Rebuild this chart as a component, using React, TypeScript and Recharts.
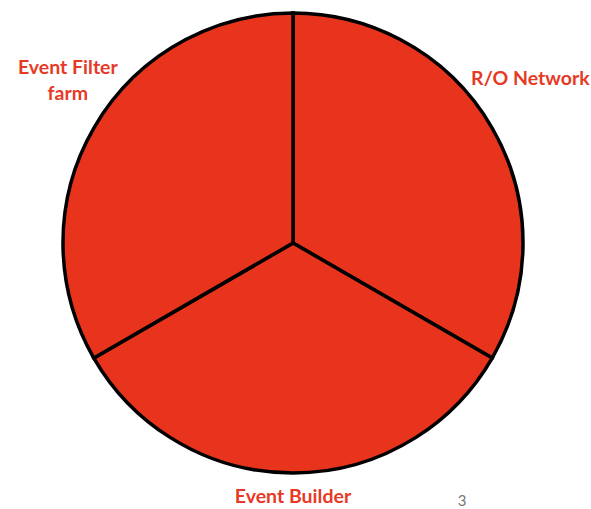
import { PieChart, Pie, Cell } from 'recharts';

const categories = ['R/O Network', 'Event Builder', 'Event Filter farm'];
const shares = [1, 1, 1];

const data = categories.map((name, i) => ({ name, value: shares[i] }));

const RED = '#E8341C';
const LABEL_RED = '#E63A26';

// label placement relative to pie centre: angle (deg) and distance as a ratio of the radius
const labelSpots = [
    { angle: 35, dist: 1.26 },
    { angle: 270, dist: 1.095 },
    { angle: 144, dist: 1.21 },
];

// eslint-disable-next-line @typescript-eslint/no-explicit-any
const renderLabel = (props: any) => {
    const { cx, cy, outerRadius, index } = props;
    const spot = labelSpots[index];
    const rad = (spot.angle * Math.PI) / 180;
    const x = cx + Math.cos(rad) * outerRadius * spot.dist;
    const y = cy - Math.sin(rad) * outerRadius * spot.dist;
    const words = categories[index] === 'Event Filter farm' ? ['Event Filter', 'farm'] : [categories[index]];
    const lineH = 26;
    const y0 = y - ((words.length - 1) * lineH) / 2;
    return (
        <text
            key={index}
            x={x}
            y={y0}
            fill={LABEL_RED}
            textAnchor="middle"
            dominantBaseline="central"
            fontFamily="Lato, 'Open Sans', sans-serif"
            fontWeight="bold"
            fontSize={19.5}
        >
            {words.map((w, i) => (
                <tspan key={i} x={x} dy={i === 0 ? 0 : lineH}>{w}</tspan>
            ))}
        </text>
    );
};

export default function App() {
    return (
        <div style={{ position: 'absolute', left: 0, top: 0, width: 591, height: 509, background: '#fff' }}>
            <PieChart width={591} height={509} margin={{ top: 0, right: 0, bottom: 0, left: 0 }}>
                <Pie
                    data={data}
                    dataKey="value"
                    nameKey="name"
                    cx={293}
                    cy={243}
                    outerRadius={230}
                    startAngle={90}
                    endAngle={-270}
                    stroke="#000"
                    strokeWidth={3.5}
                    label={renderLabel}
                    labelLine={false}
                    isAnimationActive={false}
                >
                    {data.map((d) => (
                        <Cell key={d.name} fill={RED} />
                    ))}
                </Pie>
                <text x={462} y={506} fill="#777" fontSize={15} fontFamily="Lato, sans-serif" textAnchor="middle">3</text>
            </PieChart>
        </div>
    );
}
